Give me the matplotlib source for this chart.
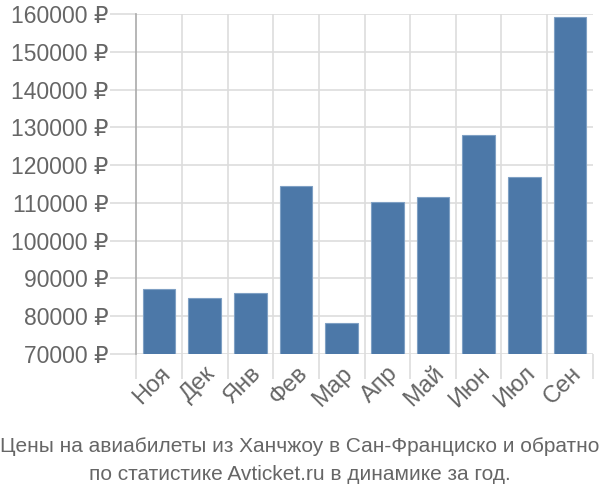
import matplotlib.pyplot as plt
import numpy as np

plt.rcParams['font.family'] = ['Liberation Sans', 'DejaVu Sans']

months = ['Ноя', 'Дек', 'Янв', 'Фев', 'Мар', 'Апр', 'Май', 'Июн', 'Июл', 'Сен']
prices = [87200, 84900, 86100, 114400, 78300, 110300, 111600, 127900, 116900, 159300]
y_ticks = list(range(70000, 160001, 10000))
title_lines = ['Цены на авиабилеты из Ханчжоу в Сан-Франциско и обратно',
               'по статистике Avticket.ru в динамике за год.']

text_col = '#666666'
grid_col = '#dddddd'

fig = plt.figure(figsize=(6, 5), dpi=100)
ax = fig.add_axes([0.227, 0.292, 0.761, 0.68])

x = np.arange(len(months))
ax.bar(x, prices, width=0.72, color='#4c78a8', edgecolor='#7fa0c4', linewidth=0.8, zorder=3)

ax.set_ylim(70000, 160000)
ax.set_xlim(-0.5, len(months) - 0.5)
ax.set_yticks(y_ticks)
ax.set_yticklabels([f'{v} ₽' for v in y_ticks])
ax.set_xticks(x)
ax.set_xticklabels(months, rotation=45, ha='right', rotation_mode='anchor')

# grid: horizontal at values, vertical at category boundaries
for v in y_ticks:
    ax.axhline(v, color=grid_col, lw=1.2, zorder=1)
for b in np.arange(0.5, len(months) - 0.5, 1):
    ax.axvline(b, color=grid_col, lw=1.2, zorder=1)

ax.tick_params(axis='y', length=19, width=1.2, color=grid_col, labelsize=16.5, labelcolor=text_col, pad=1)
ax.tick_params(axis='x', length=0, labelsize=17, labelcolor=text_col, pad=6)
ax.set_xticks(np.arange(-0.5, len(months), 1), minor=True)
ax.tick_params(axis='x', which='minor', length=18, width=1.2, color=grid_col)

for s in ['top', 'right', 'bottom']:
    ax.spines[s].set_visible(False)
ax.spines['left'].set_color('#aaaaaa')
ax.spines['left'].set_linewidth(1.2)
ax.spines['left'].set_bounds(70000, 160000)

fig.text(0.5, 0.106, title_lines[0], ha='center', va='center', fontsize=15, color=text_col)
fig.text(0.5, 0.052, title_lines[1], ha='center', va='center', fontsize=15, color=text_col)

fig.savefig('out.png', dpi=100)
